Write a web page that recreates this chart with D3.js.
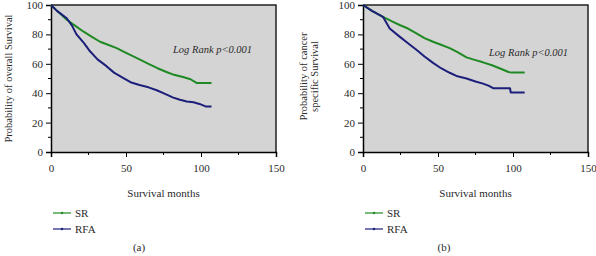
<!DOCTYPE html>
<html lang="en">
<head>
<meta charset="utf-8">
<title>Kaplan-Meier curves SR vs RFA</title>
<script src="https://cdn.jsdelivr.net/npm/d3@7"></script>
<style>
    body { margin: 0; background: #fff; }
    text { font-family: "Liberation Serif", "DejaVu Serif", serif; fill: #2a2a2a; }
    .axis path, .axis line { stroke: #000; }
    .axis text { font-size: 11px; fill: #2a2a2a; font-family: "Liberation Serif", serif; }
    path.km { fill: none; stroke-width: 2px; stroke-linejoin: round; }
</style>
</head>
<body>
<script>
    // DATA
    const seriesNames = ["SR", "RFA"];
    const xTicks = [0, 50, 100, 150];
    const yTicks = [0, 20, 40, 60, 80, 100];

    // (a) overall survival
    const osSrMonths  = [0, 4, 10.5, 16, 21.5, 27, 32.7, 38, 43.8, 49, 54.9, 60, 66, 71, 77, 82, 88, 93, 97, 99.3, 107];
    const osSrValues  = [100, 96, 90, 86, 82, 78.5, 75, 73, 70.7, 68, 65, 62.5, 59.5, 57, 54.4, 52.5, 51, 49.5, 47, 47, 47];
    const osRfaMonths = [0, 4, 10.5, 14, 17, 22, 26, 31, 37, 42, 48, 53, 59, 65, 70.5, 76, 81.5, 86, 90.5, 95, 99, 103, 107];
    const osRfaValues = [100, 96, 91, 86, 80, 74, 68.5, 63, 58.4, 54, 50.5, 47.5, 45.6, 44, 42, 39.5, 37, 35.5, 34.4, 33.8, 32.7, 31, 31];

    // (b) cancer specific survival
    const cssSrMonths  = [0, 6, 13.3, 19, 24.4, 30, 35.6, 41, 46.7, 52, 57.8, 63, 69, 75, 80, 86, 91, 97, 99, 107.8];
    const cssSrValues  = [100, 96, 92, 89, 86.4, 84, 80.7, 77.5, 75, 73, 70.7, 68, 64.4, 62.5, 61, 59, 57, 54.4, 54, 54];
    const cssRfaMonths = [0, 6, 13.3, 17.8, 24.4, 30, 35.6, 41, 46.7, 52, 57.8, 63, 69, 75, 80, 84, 86.7, 92, 98, 98.5, 107.8];
    const cssRfaValues = [100, 96, 92, 84, 78.5, 74, 69.6, 65, 60.6, 57, 53.9, 51.5, 50, 48, 46.5, 45, 43.4, 43.4, 43.4, 40.5, 40.5];

    const colors = { SR: "#1f8a24", RFA: "#1c1f7a" };

    const svg = d3.select("body").append("svg")
        .attr("width", 596)
        .attr("height", 256);

    const panels = [
        { left: 51, right: 276, yLabel: ["Probability of overall Survival"], yLabelX: 8, tag: "(a)", tagX: 139,
          lrX: 173, lrY: 53,
          data: [[osSrMonths, osSrValues], [osRfaMonths, osRfaValues]] },
        { left: 363, right: 588, yLabel: ["Probability of cancer", "specific Survival"], yLabelX: 305, tag: "(b)", tagX: 444,
          lrX: 489, lrY: 56,
          data: [[cssSrMonths, cssSrValues], [cssRfaMonths, cssRfaValues]] }
    ];

    const plotTop = 5, plotBottom = 152;

    panels.forEach(p => {
        const x = d3.scaleLinear().domain([0, 150]).range([p.left, p.right]);
        const y = d3.scaleLinear().domain([0, 100]).range([plotBottom, plotTop]);
        const g = svg.append("g");

        // grey plot area with frame
        g.append("rect")
            .attr("x", x(0)).attr("y", y(100))
            .attr("width", x(150) - x(0)).attr("height", y(0) - y(100))
            .attr("fill", "#d4d4d4");
        g.append("path")
            .attr("d", `M${x(0)},${y(100)}H${x(150)}V${y(0)}`)
            .attr("fill", "none").attr("stroke", "#222").attr("stroke-width", 1.5);

        // minor ticks
        g.selectAll("line.xminor").data([25, 75, 125]).join("line")
            .attr("x1", d => x(d)).attr("x2", d => x(d))
            .attr("y1", y(0)).attr("y2", y(0) + 3)
            .attr("stroke", "#000");
        g.selectAll("line.yminor").data([10, 30, 50, 70, 90]).join("line")
            .attr("y1", d => y(d)).attr("y2", d => y(d))
            .attr("x1", x(0)).attr("x2", x(0) - 3)
            .attr("stroke", "#000");

        // axes
        g.append("g").attr("class", "axis")
            .attr("transform", `translate(0,${y(0)})`)
            .call(d3.axisBottom(x).tickValues(xTicks).tickSize(5).tickPadding(7))
            .call(a => a.select(".domain").attr("stroke-width", 1.5));
        g.append("g").attr("class", "axis")
            .attr("transform", `translate(${x(0)},0)`)
            .call(d3.axisLeft(y).tickValues(yTicks).tickSize(5).tickPadding(3))
            .call(a => a.select(".domain").attr("stroke-width", 1.5));

        // curves
        const line = d3.line()
            .x(d => x(d[0])).y(d => y(d[1]));
        p.data.forEach((s, i) => {
            const pts = s[0].map((m, j) => [m, s[1][j]]);
            g.append("path").attr("class", "km")
                .attr("d", line(pts))
                .attr("stroke", colors[seriesNames[i]]);
        });

        g.append("text")
            .attr("x", p.lrX).attr("y", p.lrY)
            .attr("font-style", "italic").attr("font-size", 10.5)
            .text("Log Rank p<0.001");

        // y label
        const mid = (plotTop + plotBottom) / 2;
        const yl = g.append("text")
            .attr("transform", p.yLabel.length > 1
                ? `translate(${p.yLabelX + 3},${mid - 2}) rotate(-90)`
                : `translate(${p.yLabelX},${mid}) rotate(-90)`)
            .attr("text-anchor", "middle").attr("font-size", 10.5);
        p.yLabel.forEach((t, i) => {
            yl.append("tspan").attr("x", 0)
                .attr("dy", i === 0 ? (p.yLabel.length > 1 ? "-0.1em" : "0.35em") : "1.05em")
                .text(t);
        });

        // x label
        g.append("text")
            .attr("x", (x(0) + x(150)) / 2).attr("y", 197)
            .attr("text-anchor", "middle").attr("font-size", 11)
            .text("Survival months");

        // legend
        const lg = g.append("g").attr("transform", `translate(${x(0) + 2},0)`);
        seriesNames.forEach((n, i) => {
            const ly = 213 + i * 16;
            lg.append("line")
                .attr("x1", 0).attr("x2", 18).attr("y1", ly).attr("y2", ly)
                .attr("stroke", colors[n]).attr("stroke-width", 1.2);
            lg.append("circle").attr("cx", 9).attr("cy", ly).attr("r", 1.2).attr("fill", colors[n]);
            lg.append("text").attr("x", 22).attr("y", ly + 4)
                .attr("font-size", 11).text(n);
        });

        g.append("text")
            .attr("x", p.tagX).attr("y", 251)
            .attr("text-anchor", "middle").attr("font-size", 11)
            .text(p.tag);
    });
</script>
</body>
</html>
